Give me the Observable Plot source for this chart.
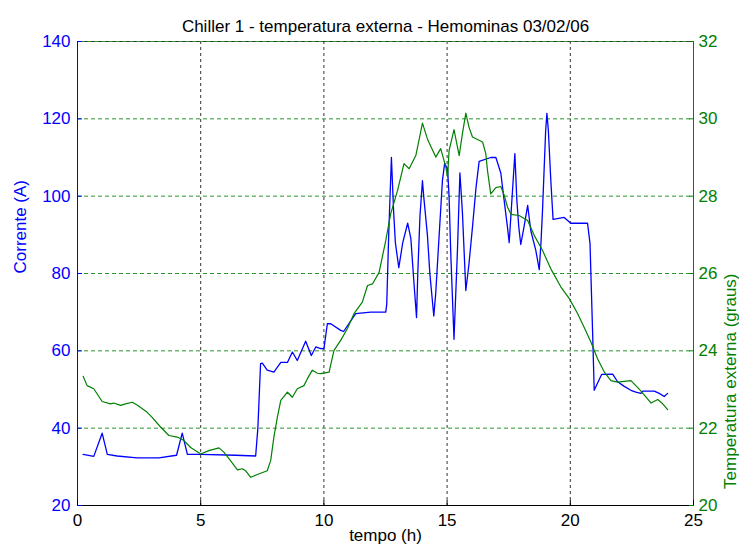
<!DOCTYPE html>
<html><head><meta charset="utf-8">
<script src="https://cdn.jsdelivr.net/npm/d3@7"></script>
<script src="https://cdn.jsdelivr.net/npm/@observablehq/plot@0.6"></script>
<style>html,body{margin:0;padding:0;background:#fff} svg{display:block}</style>
</head><body><div id="chart"></div>
<script>
const title = "Chiller 1 - temperatura externa - Hemominas 03/02/06";
const xLabel = "tempo (h)";
const yLeftLabel = "Corrente (A)";
const yRightLabel = "Temperatura externa (graus)";

const xTicks = [0, 5, 10, 15, 20, 25];
const xGrid = [5, 10, 15, 20];
const yTicks = [20, 40, 60, 80, 100, 120, 140];
const yGrid = [40, 60, 80, 100, 120];

// Corrente (A) vs tempo (h)
const curHours = [0.23,0.66,1.0,1.21,1.61,2.42,3.3,4.02,4.25,4.46,5.0,6.42,7.23,7.32,7.43,7.5,7.7,7.97,8.25,8.52,8.72,8.92,9.26,9.49,9.67,9.87,10.0,10.14,10.28,10.68,10.8,11.29,11.9,12.51,12.55,12.63,12.74,12.83,12.9,13.04,13.2,13.4,13.53,13.65,13.76,13.81,13.9,14.0,14.05,14.2,14.3,14.46,14.54,14.66,14.81,14.9,15.02,15.08,15.15,15.28,15.42,15.52,15.62,15.76,15.88,16.03,16.17,16.3,16.77,16.98,17.18,17.3,17.45,17.52,17.59,17.66,17.75,17.83,17.91,17.99,18.12,18.27,18.32,18.4,18.6,18.74,18.81,18.87,19.0,19.05,19.11,19.21,19.3,19.75,20.02,20.7,20.8,20.84,20.9,20.97,21.27,21.72,21.92,22.19,22.46,22.66,22.87,22.94,23.41,23.61,23.81,23.95];
const curAmps = [33.2,32.7,38.7,33.2,32.8,32.3,32.3,33,38.7,33.2,33.2,33,32.8,40,56.7,56.8,55,54.5,57,57,59.7,57.5,62.5,58.8,61,60.6,60.5,67,67,65.3,65,69.6,70,70,72,90,110,96,88,81.5,88,93,89,78,68.6,80,95,104,100,90,80,69,75,88,104,108.5,107,100,85,63,86,106,96,75.6,82,92,102,109,110,110,106,99.7,92,88,95,102,111,99,92,87.5,92,97.6,95,91,86,81,88,96,117,121.4,117,104,94,94.5,93,93,87.8,79,66,49.8,53.9,54,52,50.8,49.8,49.3,49,49.6,49.6,49,48.2,49];

// Temperatura externa (graus) vs tempo (h)
const tempHours = [0.23,0.39,0.66,1.0,1.34,1.47,1.75,1.95,2.22,2.42,2.83,3.03,3.37,3.71,4.05,4.32,4.59,5.0,5.33,5.74,5.94,6.21,6.49,6.69,6.82,7.03,7.3,7.7,7.84,7.97,8.11,8.25,8.52,8.72,8.92,9.19,9.33,9.53,9.74,9.87,10.21,10.41,10.68,10.95,11.22,11.56,11.77,11.97,12.24,12.51,12.71,12.99,13.25,13.46,13.73,14.0,14.2,14.54,14.74,14.95,15.02,15.08,15.28,15.49,15.62,15.76,15.89,16.03,16.44,16.57,16.64,16.77,16.98,17.18,17.32,17.45,17.59,17.92,18.27,18.54,18.87,19.21,19.62,19.96,20.3,20.56,20.84,21.11,21.38,21.65,21.92,22.46,22.66,22.87,23.28,23.55,23.75,23.95];
const tempDeg = [23.34,23.1,23.02,22.69,22.63,22.65,22.59,22.63,22.67,22.6,22.41,22.28,22.03,21.81,21.77,21.68,21.5,21.33,21.42,21.49,21.38,21.16,20.92,20.95,20.9,20.73,20.8,20.9,21.16,21.77,22.28,22.72,22.93,22.8,23.02,23.1,23.28,23.5,23.42,23.41,23.45,24.01,24.27,24.57,24.96,25.26,25.69,25.73,26.03,26.85,27.54,28.15,28.84,28.71,29.05,29.89,29.48,29.01,29.23,28.75,28.49,29.18,29.72,29.05,29.61,30.15,29.78,29.53,29.4,29.1,28.66,28.06,28.22,28.25,28.02,27.72,27.53,27.5,27.37,26.98,26.6,26.12,25.65,25.35,24.96,24.61,24.22,23.79,23.45,23.23,23.19,23.23,23.1,22.96,22.65,22.74,22.63,22.48];

const curData = curHours.map((h, i) => ({h, a: curAmps[i]}));
const tempData = tempHours.map((h, i) => ({h, t: tempDeg[i]}));

// right axis (20..32 graus) mapped onto left scale (20..140 A)
const toLeft = t => 20 + (t - 20) * 10;
const fromLeft = v => 20 + (v - 20) / 10;

const W = 739, H = 551, mL = 77, mR = 46, mT = 41, mB = 46;
const blue = "#0000ff", green = "#008000", gridGreen = "#2a962a", dark = "#333";

const chart = Plot.plot({
  width: W, height: H,
  marginLeft: mL, marginRight: mR, marginTop: mT, marginBottom: mB,
  style: {fontFamily: "'Liberation Sans', Arial, sans-serif", fontSize: "17px", background: "#fff", color: "#000"},
  x: {domain: [0, 25]},
  y: {domain: [20, 140]},
  marks: [
    Plot.ruleX(xGrid, {stroke: dark, strokeDasharray: "3,3"}),
    Plot.ruleY(yGrid, {stroke: gridGreen, strokeDasharray: "4,3"}),
    Plot.ruleY([140], {stroke: dark, strokeDasharray: "4,3"}),
    Plot.ruleY([140], {stroke: gridGreen, strokeDasharray: "4,3", strokeDashoffset: 3.5}),
    Plot.line(curData, {x: "h", y: "a", stroke: blue, strokeWidth: 1.3}),
    Plot.line(tempData, {x: "h", y: d => toLeft(d.t), stroke: green, strokeWidth: 1.2}),
    Plot.ruleY([20], {stroke: "#000"}),
    Plot.ruleX([0], {stroke: blue}),
    Plot.ruleX([25], {stroke: green}),
    Plot.axisX(xTicks, {tickSize: -5, tickFormat: () => "", color: "#000", label: null}),
    Plot.axisY(yTicks, {anchor: "left", tickSize: -5, tickFormat: () => "", color: blue, label: null}),
    Plot.axisY(yTicks, {anchor: "right", tickSize: -5, tickFormat: () => "", color: green, label: null}),
    Plot.axisX(xTicks, {tickSize: 0, tickPadding: 8, color: "#000", label: null}),
    Plot.axisY(yTicks, {anchor: "left", tickSize: 0, tickPadding: 7, color: blue, label: null}),
    Plot.axisY(yTicks, {anchor: "right", tickSize: 0, tickPadding: 5, color: green, label: null, tickFormat: v => String(fromLeft(v))}),
    Plot.text([title], {frameAnchor: "top", dy: -22, fill: "#000"}),
    Plot.text([xLabel], {frameAnchor: "bottom", dy: 35, fill: "#000"}),
    Plot.text([yLeftLabel], {frameAnchor: "left", dx: -57, rotate: -90, fill: blue}),
    Plot.text([yRightLabel], {frameAnchor: "right", dx: 37, rotate: -90, fill: green})
  ]
});
document.getElementById("chart").appendChild(chart);
</script>
</body></html>
